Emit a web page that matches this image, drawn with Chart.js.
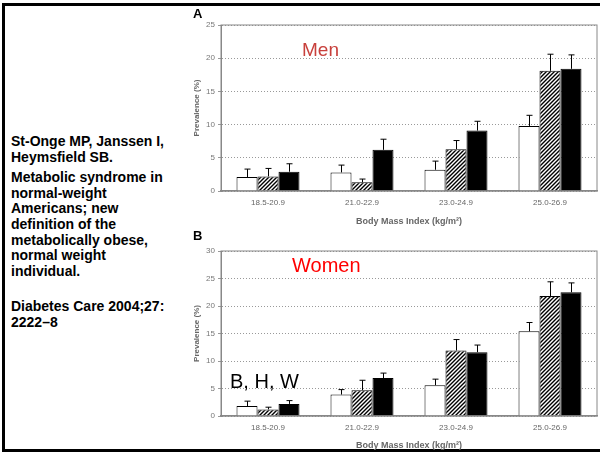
<!DOCTYPE html>
<html>
<head>
<meta charset="utf-8">
<script src="https://cdn.jsdelivr.net/npm/chart.js@4.4.1/dist/chart.umd.min.js"></script>
<style>
  body { margin: 0; width: 600px; height: 453px; overflow: hidden; background: #fff; position: relative; font-family: "Liberation Sans", Arial, sans-serif; }
  .frame { position: absolute; left: 2px; top: 3px; width: 700px; height: 449px; border: 3px solid #000; box-sizing: border-box; }
  .ref { position: absolute; left: 11px; font-size: 14px; font-weight: bold; line-height: 15.7px; color: #000; white-space: nowrap; }
  .lbl { position: absolute; line-height: 1; white-space: nowrap; z-index: 2; }
  canvas { position: absolute; left: 190px; }
</style>
</head>
<body>
<div class="frame"></div>
<div class="ref" style="top:134.2px">St-Onge MP, Janssen I,<br>Heymsfield SB.</div>
<div class="ref" style="top:169.8px">Metabolic syndrome in<br>normal-weight<br>Americans; new<br>definition of the<br>metabolically obese,<br>normal weight<br>individual.</div>
<div class="ref" style="top:299.2px">Diabetes Care 2004;27:<br>2222–8</div>

<canvas id="grafA" width="410" height="232" style="top:0px"></canvas>
<canvas id="grafB" width="410" height="224" style="top:229px"></canvas>

<div class="lbl" style="left:193px;top:6.5px;font-size:13px;font-weight:bold">A</div>
<div class="lbl" style="left:193px;top:228.5px;font-size:13px;font-weight:bold">B</div>
<div class="lbl" style="left:302px;top:40px;font-size:19px;color:#c8403c">Men</div>
<div class="lbl" style="left:292px;top:254.5px;font-size:20px;color:#ff0000">Women</div>
<div class="lbl" style="left:230px;top:370.5px;font-size:20px;color:#000">B, H, W</div>

<script>
const categorias = ["18.5-20.9", "21.0-22.9", "23.0-24.9", "25.0-26.9"];
const grupos = ["B", "H", "W"];

// homens (A)
const homensBranco = [2.1, 2.8, 3.2, 9.8];
const homensBrancoErro = [3.3, 3.9, 4.5, 11.4];
const homensRiscado = [2.2, 1.3, 6.3, 18.1];
const homensRiscadoErro = [3.4, 1.8, 7.6, 20.6];
const homensPreto = [2.9, 6.2, 9.1, 18.4];
const homensPretoErro = [4.1, 7.8, 10.5, 20.5];

// mulheres (B)
const mulheresBranco = [1.8, 3.9, 5.6, 15.4];
const mulheresBrancoErro = [2.7, 4.8, 6.7, 17.0];
const mulheresRiscado = [1.2, 4.7, 11.9, 21.8];
const mulheresRiscadoErro = [1.6, 6.5, 13.9, 24.4];
const mulheresPreto = [2.2, 6.9, 11.6, 22.5];
const mulheresPretoErro = [2.8, 7.8, 12.9, 24.2];

const ticksA = [0, 5, 10, 15, 20, 25];
const ticksB = [0, 5, 10, 15, 20, 25, 30];

function riscado() {
  const c = document.createElement("canvas");
  c.width = 4;
  c.height = 4;
  const g = c.getContext("2d");
  g.fillStyle = "#fff";
  g.fillRect(0, 0, 4, 4);
  g.strokeStyle = "#000";
  g.lineWidth = 1.4;
  g.beginPath();
  g.moveTo(0, 4); g.lineTo(4, 0);
  g.moveTo(-1, 1); g.lineTo(1, -1);
  g.moveTo(3, 5); g.lineTo(5, 3);
  g.stroke();
  return g.createPattern(c, "repeat");
}

const barrasErro = {
  id: "barrasErro",
  afterDatasetsDraw(chart) {
    const ctx = chart.ctx;
    const y = chart.scales.y;
    const a = chart.chartArea;
    ctx.save();
    ctx.strokeStyle = "#888";
    ctx.lineWidth = 1;
    ctx.strokeRect(a.left, a.top, a.right - a.left, a.bottom - a.top);
    ctx.strokeStyle = "#000";
    ctx.lineWidth = 1;
    chart.data.datasets.forEach((ds, i) => {
      const meta = chart.getDatasetMeta(i);
      meta.data.forEach((bar, j) => {
        const topo = y.getPixelForValue(ds.erro[j]);
        const x = Math.round(bar.x) + 0.5;
        ctx.beginPath();
        ctx.moveTo(x, bar.y);
        ctx.lineTo(x, topo);
        ctx.moveTo(x - 3, topo);
        ctx.lineTo(x + 3, topo);
        ctx.stroke();
      });
    });
    ctx.restore();
  }
};

function grafico(id, valores, erros, ticks, cfg) {
  const padrao = riscado();
  const estilos = [
    { bg: "#fff" },
    { bg: padrao },
    { bg: "#000" }
  ];
  new Chart(document.getElementById(id), {
    type: "bar",
    data: {
      labels: categorias,
      datasets: valores.map((v, i) => ({
        label: grupos[i],
        data: v,
        erro: erros[i],
        backgroundColor: estilos[i].bg,
        borderColor: "#000",
        borderWidth: 1,
        barPercentage: 1.0,
        categoryPercentage: 0.67
      }))
    },
    options: {
      responsive: false,
      animation: false,
      devicePixelRatio: 1,
      layout: { padding: { top: cfg.topo, right: 3, left: 0, bottom: 0 } },
      plugins: {
        legend: { display: false },
        tooltip: { enabled: false }
      },
      scales: {
        x: {
          afterFit: s => { s.height = cfg.altX; },
          grid: { display: false, drawTicks: false },
          border: { display: true, color: "#888", width: 1.5 },
          ticks: { color: "#666", padding: 7, font: { family: "Liberation Sans, Arial", size: 8 } },
          title: {
            display: true,
            text: "Body Mass Index (kg/m²)",
            color: "#666",
            padding: { top: 0, bottom: cfg.titPad },
            font: { family: "Liberation Sans, Arial", size: 9, weight: "bold" }
          }
        },
        y: {
          min: 0,
          max: ticks[ticks.length - 1],
          afterFit: s => { s.width = 31; },
          afterBuildTicks: s => { s.ticks = ticks.map(v => ({ value: v })); },
          grid: { color: "#999", tickLength: 3, tickColor: "#999" },
          border: { display: true, color: "#888", width: 1, dash: [1, 2] },
          ticks: { color: "#777", padding: 3, font: { family: "Liberation Sans, Arial", size: 8 } },
          title: {
            display: true,
            text: "Prevalence (%)",
            color: "#666",
            padding: { top: 2, bottom: 0 },
            font: { family: "Liberation Sans, Arial", size: 8, weight: "bold" }
          }
        }
      }
    },
    plugins: [barrasErro]
  });
}

grafico("grafA",
  [homensBranco, homensRiscado, homensPreto],
  [homensBrancoErro, homensRiscadoErro, homensPretoErro],
  ticksA, { topo: 25, altX: 41, titPad: 4.6 });

grafico("grafB",
  [mulheresBranco, mulheresRiscado, mulheresPreto],
  [mulheresBrancoErro, mulheresRiscadoErro, mulheresPretoErro],
  ticksB, { topo: 22, altX: 37, titPad: 1.6 });
</script>
</body>
</html>
